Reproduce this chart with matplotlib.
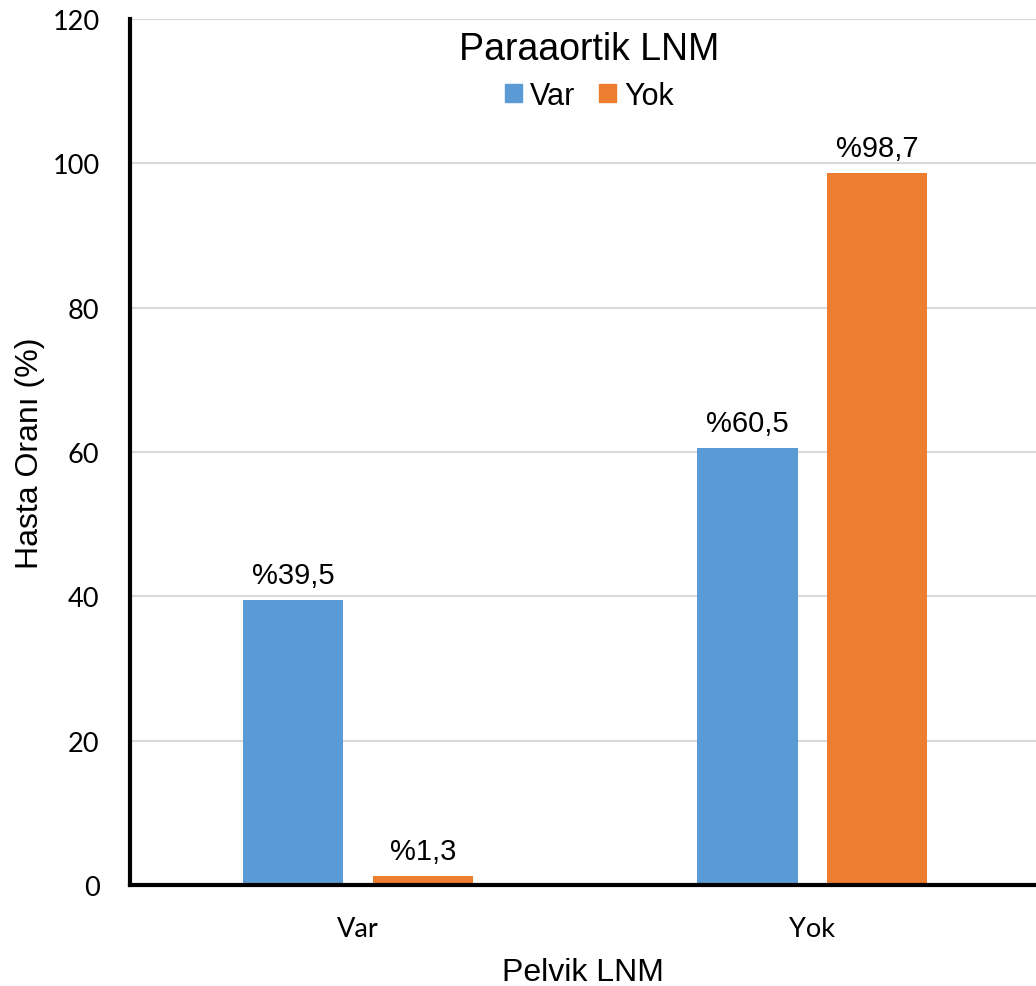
import matplotlib.pyplot as plt
import numpy as np
from matplotlib.patches import Patch

# Pelvik LNM gruplarına göre paraaortik LNM oranları
groups = ["Var", "Yok"]
series = ["Var", "Yok"]
var_vals = [39.5, 60.5]
yok_vals = [1.3, 98.7]
var_labels = ["%39,5", "%60,5"]
yok_labels = ["%1,3", "%98,7"]

blue = "#5B9BD5"
orange = "#ED7D31"

plt.rcParams["font.family"] = ["Liberation Sans", "DejaVu Sans"]

fig = plt.figure(figsize=(10.36, 9.87), dpi=100)
ax = fig.add_axes([130 / 1036, 101 / 987, 906 / 1036, 866 / 987])

x = np.arange(len(groups))
w = 0.222
off = 0.143
b1 = ax.bar(x - off, var_vals, w, color=blue)
b2 = ax.bar(x + off, yok_vals, w, color=orange)

for bars, labels in [(b1, var_labels), (b2, yok_labels)]:
    for bar, lab in zip(bars, labels):
        ax.annotate(lab, (bar.get_x() + bar.get_width() / 2, bar.get_height()),
                    xytext=(0, 8), textcoords="offset points",
                    ha="center", va="bottom", fontsize=21)

ax.set_ylim(0, 120)
ax.set_xlim(-0.502, 1.493)
ax.set_yticks(range(0, 121, 20))
ax.set_xticks(x)
ax.set_xticklabels(groups)
ax.tick_params(axis="both", length=0, labelsize=19.5)
ax.tick_params(axis="y", pad=22)
ax.tick_params(axis="x", pad=22)
for lab in ax.get_xticklabels() + ax.get_yticklabels():
    lab.set_fontfamily("Lato")

ax.yaxis.grid(True, color="#d9d9d9", linewidth=1.5)
ax.set_axisbelow(True)
for s in ["top", "right"]:
    ax.spines[s].set_visible(False)
for s in ["left", "bottom"]:
    ax.spines[s].set_linewidth(3)
    ax.spines[s].set_color("black")
    ax.spines[s].set_zorder(3)

ax.set_ylabel("Hasta Oranı (%)", fontsize=23, labelpad=5)
ax.set_xlabel("Pelvik LNM", fontsize=23, labelpad=12)

handles = [Patch(color=blue), Patch(color=orange)]
leg = ax.legend(handles, series, title="Paraaortik LNM", loc="upper center",
                bbox_to_anchor=(0.507, 1.018), ncol=2, frameon=False,
                fontsize=22, title_fontsize=27, handlelength=0.55,
                handleheight=0.55, handletextpad=0.25, columnspacing=0.8)
leg._legend_box.sep = 10

fig.savefig("out.png", dpi=100)
